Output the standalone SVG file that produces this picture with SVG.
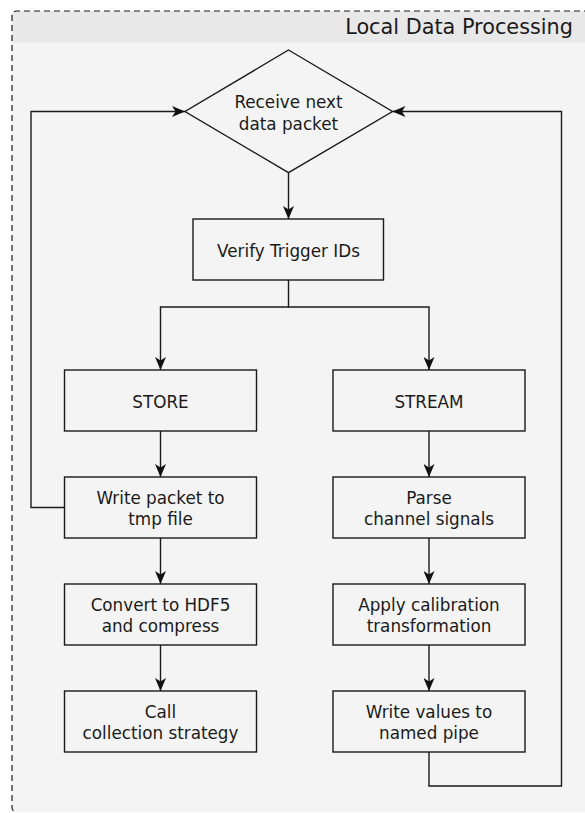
<svg xmlns="http://www.w3.org/2000/svg" width="585" height="813" viewBox="0 0 585 813">
<style>
  .box { fill: #f4f4f4; stroke: #1a1a1a; stroke-width: 1.4; }
  .lbl { font-family: "DejaVu Sans", sans-serif; font-size: 16.8px; fill: #1a1a1a; text-anchor: middle; }
  .conn { fill: none; stroke: #1a1a1a; stroke-width: 1.4; }
</style>
<defs>
  <marker id="arr" viewBox="0 0 13 11" refX="13" refY="5.5" markerWidth="13" markerHeight="11" markerUnits="userSpaceOnUse" orient="auto">
    <path d="M0,0 L13,5.5 L0,11 L3.5,5.5 Z" fill="#111"/>
  </marker>
</defs>
<rect width="585" height="813" fill="#ffffff"/>
<g id="container">
  <path d="M12,812 L12,16 Q12,11 17,11 L600,11 L600,812 Z" fill="#f4f4f4"/>
  <path d="M12,42.5 L12,16 Q12,11 17,11 L600,11 L600,42.5 Z" fill="#e8e8e8"/>
  <path d="M600,11 L17,11 Q12,11 12,16 L12,807 Q12,812 17,812" fill="none" stroke="#1a1a1a" stroke-width="1.2" stroke-dasharray="6 4"/>
  <text x="573" y="34" font-family="DejaVu Sans, sans-serif" font-size="20.8px" fill="#1a1a1a" text-anchor="end">Local Data Processing</text>
</g>
<g id="connectors">
  <path class="conn" d="M288.5,172.7 L288.5,219" marker-end="url(#arr)"/>
  <path class="conn" d="M288.5,280 L288.5,307 L160.5,307 L160.5,370" marker-end="url(#arr)"/>
  <path class="conn" d="M288.5,307 L429,307 L429,370" marker-end="url(#arr)"/>
  <path class="conn" d="M160.5,431 L160.5,477" marker-end="url(#arr)"/>
  <path class="conn" d="M160.5,538 L160.5,584" marker-end="url(#arr)"/>
  <path class="conn" d="M160.5,645 L160.5,691" marker-end="url(#arr)"/>
  <path class="conn" d="M429,431 L429,477" marker-end="url(#arr)"/>
  <path class="conn" d="M429,538 L429,584" marker-end="url(#arr)"/>
  <path class="conn" d="M429,645 L429,691" marker-end="url(#arr)"/>
  <path class="conn" d="M64.5,507.5 L31,507.5 L31,111.5 L185,111.5" marker-end="url(#arr)"/>
  <path class="conn" d="M429,752 L429,786 L561.5,786 L561.5,111.5 L392.5,111.5" marker-end="url(#arr)"/>
</g>
<g id="receive">
  <polygon class="box" points="288.5,50 392.5,111.5 288.5,172.7 185,111.5"/>
  <text class="lbl" x="288.5" y="108">Receive next</text>
  <text class="lbl" x="288.5" y="129.5">data packet</text>
</g>
<g id="verify">
  <rect class="box" x="193" y="219" width="190.5" height="61"/>
  <text class="lbl" x="288.5" y="256.5">Verify Trigger IDs</text>
</g>
<g id="store">
  <rect class="box" x="64.5" y="370" width="192" height="61"/>
  <text class="lbl" x="160.5" y="407.5">STORE</text>
</g>
<g id="stream">
  <rect class="box" x="333" y="370" width="192" height="61"/>
  <text class="lbl" x="429" y="407.5">STREAM</text>
</g>
<g id="write_packet">
  <rect class="box" x="64.5" y="477" width="192" height="61"/>
  <text class="lbl" x="160.5" y="503.5">Write packet to</text>
  <text class="lbl" x="160.5" y="524.5">tmp file</text>
</g>
<g id="parse">
  <rect class="box" x="333" y="477" width="192" height="61"/>
  <text class="lbl" x="429" y="503.5">Parse</text>
  <text class="lbl" x="429" y="524.5">channel signals</text>
</g>
<g id="convert">
  <rect class="box" x="64.5" y="584" width="192" height="61"/>
  <text class="lbl" x="160.5" y="610.5">Convert to HDF5</text>
  <text class="lbl" x="160.5" y="631.5">and compress</text>
</g>
<g id="calibrate">
  <rect class="box" x="333" y="584" width="192" height="61"/>
  <text class="lbl" x="429" y="610.5">Apply calibration</text>
  <text class="lbl" x="429" y="631.5">transformation</text>
</g>
<g id="call">
  <rect class="box" x="64.5" y="691" width="192" height="61"/>
  <text class="lbl" x="160.5" y="717.5">Call</text>
  <text class="lbl" x="160.5" y="738.5">collection strategy</text>
</g>
<g id="write_values">
  <rect class="box" x="333" y="691" width="192" height="61"/>
  <text class="lbl" x="429" y="717.5">Write values to</text>
  <text class="lbl" x="429" y="738.5">named pipe</text>
</g>
</svg>
